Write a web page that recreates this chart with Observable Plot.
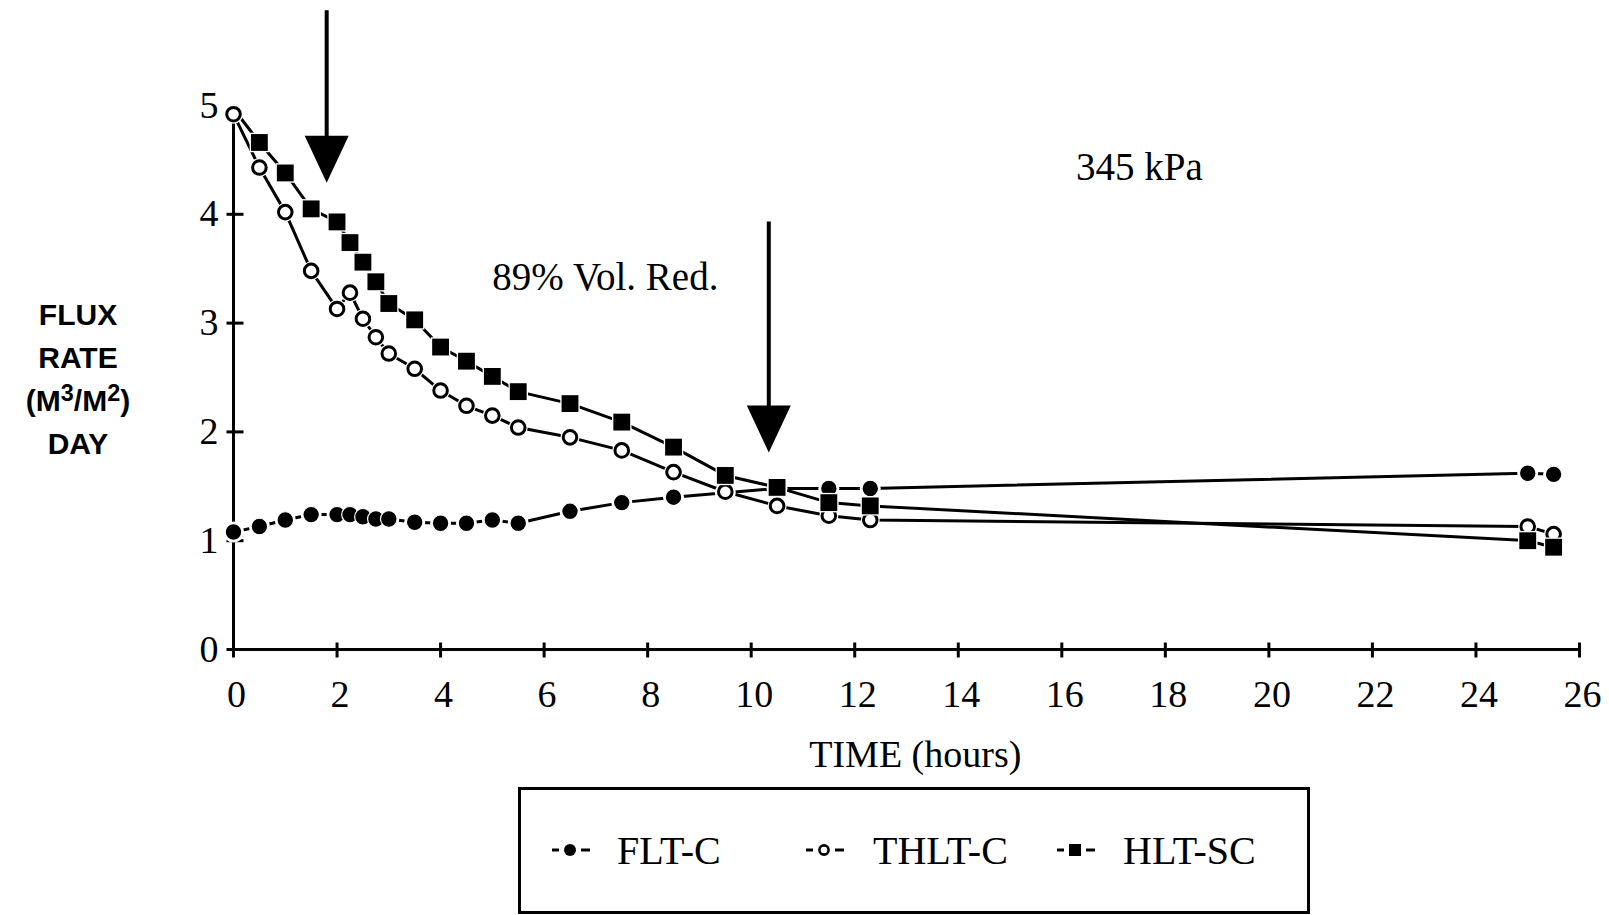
<!DOCTYPE html>
<html>
<head>
<meta charset="utf-8">
<script src="https://cdn.jsdelivr.net/npm/d3@7"></script>
<script src="https://cdn.jsdelivr.net/npm/@observablehq/plot@0.6"></script>
<style>
  body { margin: 0; background: #fff; }
  #wrap { position: relative; width: 1609px; height: 915px; overflow: hidden; background: #fff; }
  #ytitle { position: absolute; left: 0; top: 293px; width: 156px; text-align: center;
            font-family: "Liberation Sans", Arial, Helvetica, sans-serif; font-weight: bold;
            font-size: 30px; line-height: 43px; color: #000; }
  #ytitle sup { font-size: 0.78em; line-height: 0; vertical-align: 0.42em; }
  #legend { position: absolute; left: 518px; top: 787px; width: 792px; height: 127px;
            border: 3px solid #000; box-sizing: border-box; }
  .item { position: absolute; top: 37px; height: 46px; display: flex; align-items: center;
          font-family: "Liberation Serif", "Times New Roman", serif; font-size: 40px; color: #000; }
</style>
</head>
<body>
<div id="wrap">
  <div id="chart"></div>
  <div id="ytitle"></div>
  <div id="legend"></div>
</div>
<script>
// ---- data ----
const seriesNames = ["FLT-C", "THLT-C", "HLT-SC"];
const fltT  = [0, 0.5, 1, 1.5, 2, 2.25, 2.5, 2.75, 3, 3.5, 4, 4.5, 5, 5.5, 6.5, 7.5, 8.5, 9.5, 10.5, 11.5, 12.3, 25, 25.5];
const fltV  = [1.08, 1.13, 1.19, 1.24, 1.24, 1.24, 1.22, 1.20, 1.20, 1.17, 1.16, 1.16, 1.19, 1.16, 1.27, 1.35, 1.40, 1.44, 1.48, 1.48, 1.48, 1.62, 1.61];
const thltT = [0, 0.5, 1, 1.5, 2, 2.25, 2.5, 2.75, 3, 3.5, 4, 4.5, 5, 5.5, 6.5, 7.5, 8.5, 9.5, 10.5, 11.5, 12.3, 25, 25.5];
const thltV = [4.92, 4.43, 4.02, 3.48, 3.13, 3.28, 3.04, 2.87, 2.72, 2.58, 2.38, 2.24, 2.15, 2.04, 1.95, 1.83, 1.63, 1.45, 1.32, 1.23, 1.19, 1.13, 1.06];
const hltT  = [0, 0.5, 1, 1.5, 2, 2.25, 2.5, 2.75, 3, 3.5, 4, 4.5, 5, 5.5, 6.5, 7.5, 8.5, 9.5, 10.5, 11.5, 12.3, 25, 25.5];
const hltV  = [4.97, 4.66, 4.38, 4.05, 3.93, 3.74, 3.56, 3.38, 3.18, 3.03, 2.78, 2.65, 2.51, 2.37, 2.26, 2.09, 1.86, 1.60, 1.49, 1.35, 1.32, 1.00, 0.94];

const xTickValues = [0, 2, 4, 6, 8, 10, 12, 14, 16, 18, 20, 22, 24, 26];
const yTickValues = [0, 1, 2, 3, 4, 5];

// annotations (data space)
const arrowX   = [1.8, 10.34];
const arrowTop = [5.87, 3.93];
const arrowTip = [4.29, 1.81];
const volNote = {t: "89% Vol. Red.", x: 5.0, y: 3.42};
const kpaNote = {t: "345 kPa", x: 17.5, y: 4.43};
const xTitle = "TIME (hours)";
const yTitleHtml = "FLUX<br>RATE<br>(M<sup>3</sup>/M<sup>2</sup>)<br>DAY";

// ---- build tables ----
const mk = (name, t, v) => t.map((x, i) => ({series: name, x, y: v[i]}));
const flt = mk("FLT-C", fltT, fltV);
const thlt = mk("THLT-C", thltT, thltV);
const hlt = mk("HLT-SC", hltT, hltV);
const arrows = arrowX.map((x, i) => ({x, top: arrowTop[i], tip: arrowTip[i]}));

// custom symbols
const vTick = {draw(c) { c.moveTo(0, -7); c.lineTo(0, 8); }};
const hTick = {draw(c) { c.moveTo(-7, 0); c.lineTo(10, 0); }};
const head  = {draw(c) { c.moveTo(-22, -47); c.lineTo(22, -47); c.lineTo(0, 0); c.closePath(); }};

const serif = "Liberation Serif, Times New Roman, serif";

const chart = Plot.plot({
  width: 1609,
  height: 780,
  marginLeft: 233,
  marginRight: 30,
  marginTop: 105,
  marginBottom: 131,
  style: {fontFamily: serif, fontSize: "38px", color: "#000", background: "#fff"},
  x: {domain: [0, 26]},
  y: {domain: [0, 5]},
  marks: [
    // axis lines
    Plot.ruleY([0], {x1: 0, x2: 26, stroke: "#000", strokeWidth: 3}),
    Plot.ruleX([0], {y1: 0, y2: 5, stroke: "#000", strokeWidth: 3}),
    // crossing ticks
    Plot.dot(xTickValues, {x: d => d, y: 0, symbol: vTick, fill: "none", stroke: "#000", strokeWidth: 3}),
    Plot.dot(yTickValues.filter(d => d < 5), {x: 0, y: d => d, symbol: hTick, fill: "none", stroke: "#000", strokeWidth: 3}),
    // tick labels
    Plot.axisX({ticks: xTickValues, tickSize: 0, tickPadding: 31, label: null, tickFormat: d => String(d), dx: 3}),
    Plot.axisY({ticks: yTickValues, tickSize: 0, tickPadding: 15, label: null, tickFormat: d => String(d)}),
    // lines
    Plot.line(flt,  {x: "x", y: "y", stroke: "#000", strokeWidth: 3}),
    Plot.line(thlt, {x: "x", y: "y", stroke: "#000", strokeWidth: 3}),
    Plot.line(hlt,  {x: "x", y: "y", stroke: "#000", strokeWidth: 3}),
    // FLT-C markers
    Plot.dot(flt, {x: "x", y: "y", r: 10.5, fill: "#fff", stroke: "none"}),
    Plot.dot(flt, {x: "x", y: "y", r: 8.3, fill: "#000", stroke: "#fff", strokeWidth: 1.2}),
    // THLT-C markers
    Plot.dot(thlt, {x: "x", y: "y", r: 9.5, fill: "#fff", stroke: "none"}),
    Plot.dot(thlt, {x: "x", y: "y", r: 6.8, fill: "#fff", stroke: "#000", strokeWidth: 3}),
    // HLT-SC markers (first point hidden beneath THLT-C start in the original)
    Plot.dot(hlt, {filter: d => d.x > 0, x: "x", y: "y", r: 11, symbol: "square", fill: "#fff", stroke: "none"}),
    Plot.dot(hlt, {filter: d => d.x > 0, x: "x", y: "y", r: 9.5, symbol: "square", fill: "#000", stroke: "none"}),
    // arrows
    Plot.ruleX(arrows, {x: "x", y1: "top", y2: d => d.tip + 0.2, stroke: "#000", strokeWidth: 4}),
    Plot.dot(arrows, {x: "x", y: "tip", symbol: head, fill: "#000", stroke: "none"}),
    // notes
    Plot.text([volNote], {x: "x", y: "y", text: "t", textAnchor: "start", fontSize: 39, fill: "#000"}),
    Plot.text([kpaNote], {x: "x", y: "y", text: "t", textAnchor: "middle", fontSize: 39, fill: "#000"}),
    // x axis title
    Plot.text([xTitle], {x: 13.17, y: -0.965, text: d => d, fontSize: 38, fill: "#000"})
  ]
});
document.getElementById("chart").appendChild(chart);
document.getElementById("ytitle").innerHTML = yTitleHtml;

// ---- legend ----
const legendPos = [{sym: 29, txt: 96}, {sym: 283, txt: 352}, {sym: 534, txt: 602}];
const symSvg = {
  "FLT-C":  '<circle cx="20" cy="12" r="6" fill="#000"/>',
  "THLT-C": '<circle cx="20" cy="12" r="4.6" fill="#fff" stroke="#000" stroke-width="2.6"/>',
  "HLT-SC": '<rect x="14" y="6" width="12" height="12" fill="#000"/>'
};
const legend = document.getElementById("legend");
seriesNames.forEach((name, i) => {
  const s = document.createElement("div");
  s.className = "item";
  s.style.left = legendPos[i].sym + "px";
  s.innerHTML = '<svg width="44" height="24" viewBox="0 0 44 24">' +
    '<line x1="2" y1="12" x2="9" y2="12" stroke="#000" stroke-width="3"/>' +
    '<line x1="31" y1="12" x2="40" y2="12" stroke="#000" stroke-width="3"/>' +
    symSvg[name] + '</svg>';
  legend.appendChild(s);
  const t = document.createElement("div");
  t.className = "item";
  t.style.left = legendPos[i].txt + "px";
  t.textContent = name;
  legend.appendChild(t);
});
</script>
</body>
</html>
